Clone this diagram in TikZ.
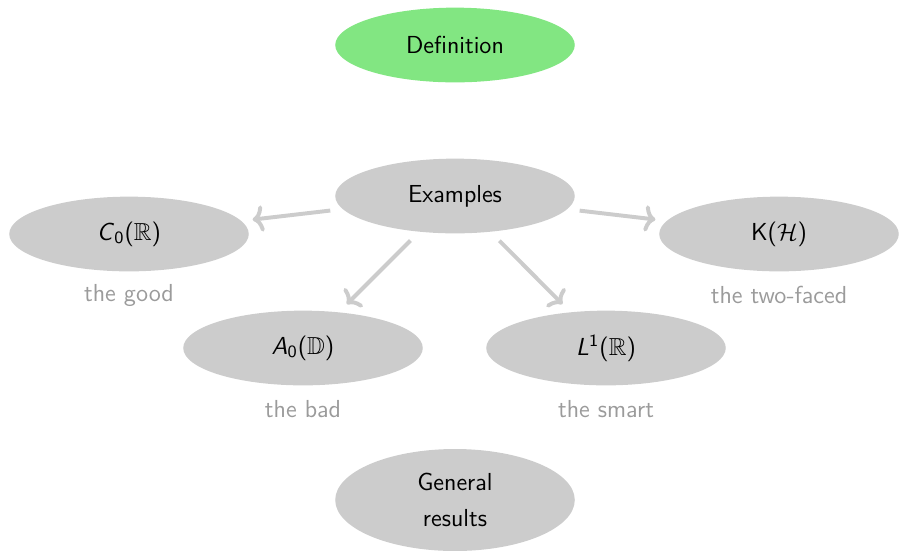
\documentclass[tikz,border=0pt]{standalone}
\usepackage{amsmath,amssymb}
\usetikzlibrary{shapes.geometric,arrows.meta}
\definecolor{nodegray}{RGB}{204,204,204}
\definecolor{defgreen}{RGB}{130,230,130}
\definecolor{notegray}{RGB}{155,155,155}
% sans italic letters with sans digits in sub/superscripts
\newcommand{\sfvar}[1]{\textit{#1}}
\newcommand{\sfdig}[1]{\text{\sffamily\upshape #1}}
\tikzset{
  blob/.style={ellipse, fill=nodegray, text=black, inner sep=0pt,
    minimum width=109pt, minimum height=34pt,
    font=\fontsize{11.2}{13.8}\selectfont\sffamily},
  defblob/.style={blob, fill=defgreen},
  note/.style={anchor=base, text=notegray,
    font=\fontsize{11.2}{13.8}\selectfont\sffamily},
  link/.style={draw=nodegray, line width=1.8pt,
    -{To[length=5pt,width=12pt]},
    shorten >=5pt, shorten <=5.5pt}
}
\begin{document}
\begin{tikzpicture}[x=0.455pt,y=-0.455pt]
  \useasboundingbox (0,0) rectangle (899,550);

  \node[defblob] (def) at (455,45) {Definition};
  \node[blob] (ex) at (455,196) {Examples};

  \node[blob] (c0) at (129,234) {\sfvar{C}$_{\sfdig{0}}$($\mathbb{R}$)};
  \node[blob] (kh) at (779,234) {K($\mathcal{H}$)};
  \node[blob] (a0) at (303,348) {\sfvar{A}$_{\sfdig{0}}$($\mathbb{D}$)};
  \node[blob] (l1) at (606,348) {\sfvar{L}$^{\sfdig{1}}$($\mathbb{R}$)};

  \node[blob, minimum height=46.4pt, align=center] (gen) at (455,500)
    {General\\[2.6pt]results};

  \node[note] (tgood) at (129,301) {the good};
  \node[note] (ttwo)  at (779,303) {the two-faced};
  \node[note] (tbad)  at (303,417) {the bad};
  \node[note] (tsmart) at (606,417) {the smart};

  \draw[link] (ex) -- (c0);
  \draw[link] (ex) -- (kh);
  \draw[link] (ex) -- (a0);
  \draw[link] (ex) -- (l1);
\end{tikzpicture}
\end{document}
